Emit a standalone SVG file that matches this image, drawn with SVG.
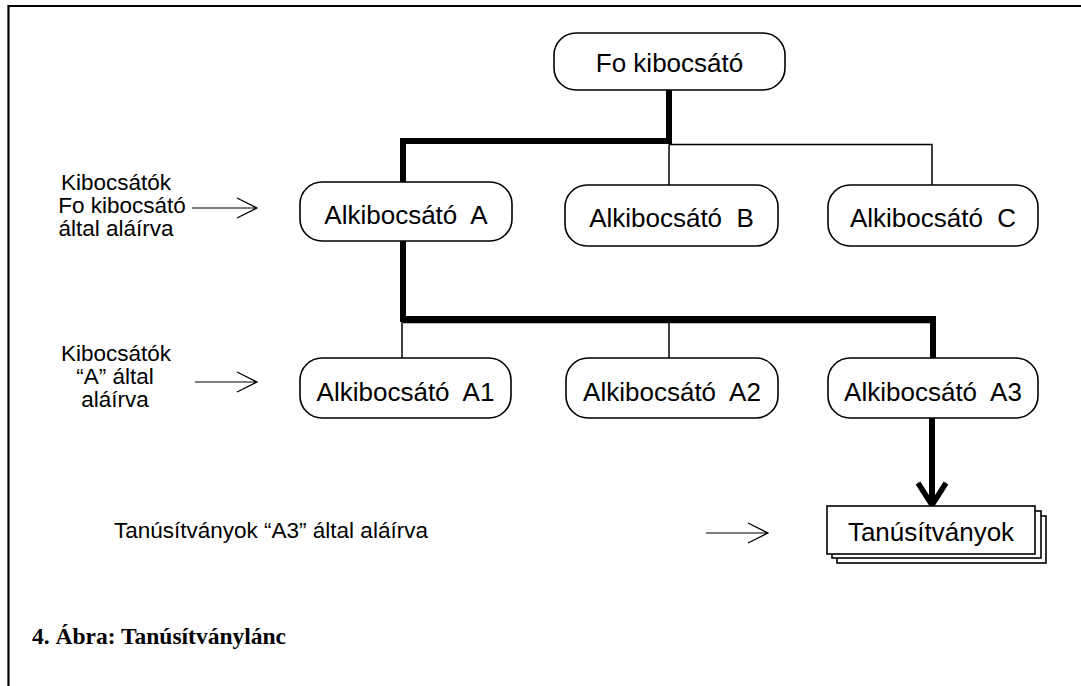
<svg xmlns="http://www.w3.org/2000/svg" width="1081" height="686" viewBox="0 0 1081 686">
<style>
.node rect{fill:#fff;stroke:#000;stroke-width:1.6}
.nt{font-family:"Liberation Sans",Arial,sans-serif;font-size:26px;fill:#000;text-anchor:middle;white-space:pre}
.lt{font-family:"Liberation Sans",Arial,sans-serif;font-size:22.5px;fill:#000;text-anchor:middle}
.thick{fill:none;stroke:#000;stroke-width:6;stroke-linejoin:miter}
.thin{fill:none;stroke:#000;stroke-width:1.5}
.pt{fill:none;stroke:#000;stroke-width:1.2}
</style>
<rect x="0" y="0" width="1081" height="686" fill="#fff"/>
<path d="M8.5,686 V6 H1081" fill="none" stroke="#000" stroke-width="2.2"/>
<g id="connectors">
<path class="thin" d="M669,144.5 H932 V185"/>
<path class="thin" d="M669,144.5 V185"/>
<path class="thick" d="M669,90 V141 H403 V182"/>
<path class="thin" d="M403,322.5 H933"/>
<path class="thin" d="M402,322 V358"/>
<path class="thin" d="M669,322 V358"/>
<path class="thick" d="M403,241 V319 H933 V358"/>
<path class="thick" d="M932,418 V500"/>
<path d="M918,483 L932,505 L946,483" fill="none" stroke="#000" stroke-width="5.5" stroke-linejoin="miter"/>
</g>
<g id="label1">
<text class="lt" x="116" y="190">Kibocsátók</text>
<text class="lt" x="122" y="213">Fo kibocsátó</text>
<text class="lt" x="116" y="236">által aláírva</text>
<path class="pt" d="M192,208 H257 M237,198 L257,208 L237,218"/>
</g>
<g id="label2">
<text class="lt" x="116" y="361">Kibocsátók</text>
<text class="lt" x="115" y="384">“A” által</text>
<text class="lt" x="115" y="407">aláírva</text>
<path class="pt" d="M195,382 H257 M237,372 L257,382 L237,392"/>
</g>
<g id="label3">
<text class="lt" x="114" y="538" style="text-anchor:start">Tanúsítványok “A3” által aláírva</text>
<path class="pt" d="M706,533 H768 M748,523 L768,533 L748,543"/>
</g>
<g id="fo" class="node"><rect x="554" y="33" width="231" height="57" rx="22"/><text class="nt" x="669.5" y="72">Fo kibocsátó</text></g>
<g id="a" class="node"><rect x="300" y="182" width="212" height="59" rx="22"/><text class="nt" x="406" y="224" xml:space="preserve">Alkibocsátó  A</text></g>
<g id="b" class="node"><rect x="565" y="185" width="213" height="61" rx="22"/><text class="nt" x="671.5" y="227" xml:space="preserve">Alkibocsátó  B</text></g>
<g id="c" class="node"><rect x="828" y="185" width="210" height="61" rx="22"/><text class="nt" x="933" y="227" xml:space="preserve">Alkibocsátó  C</text></g>
<g id="a1" class="node"><rect x="300" y="358" width="211" height="60" rx="22"/><text class="nt" x="405.5" y="401" xml:space="preserve">Alkibocsátó  A1</text></g>
<g id="a2" class="node"><rect x="566" y="358" width="212" height="60" rx="22"/><text class="nt" x="672" y="401" xml:space="preserve">Alkibocsátó  A2</text></g>
<g id="a3" class="node"><rect x="828" y="358" width="210" height="60" rx="22"/><text class="nt" x="933" y="401" xml:space="preserve">Alkibocsátó  A3</text></g>
<g id="cert" class="node">
<rect x="837" y="516" width="209" height="47"/>
<rect x="832" y="511" width="209" height="47"/>
<rect x="827" y="506" width="208" height="48"/>
<text class="nt" x="931" y="541">Tanúsítványok</text>
</g>
<g id="caption"><text x="32" y="644" font-family="'Liberation Serif','Times New Roman',serif" font-weight="bold" font-size="23.5" fill="#000">4. Ábra: Tanúsítványlánc</text></g>
</svg>
